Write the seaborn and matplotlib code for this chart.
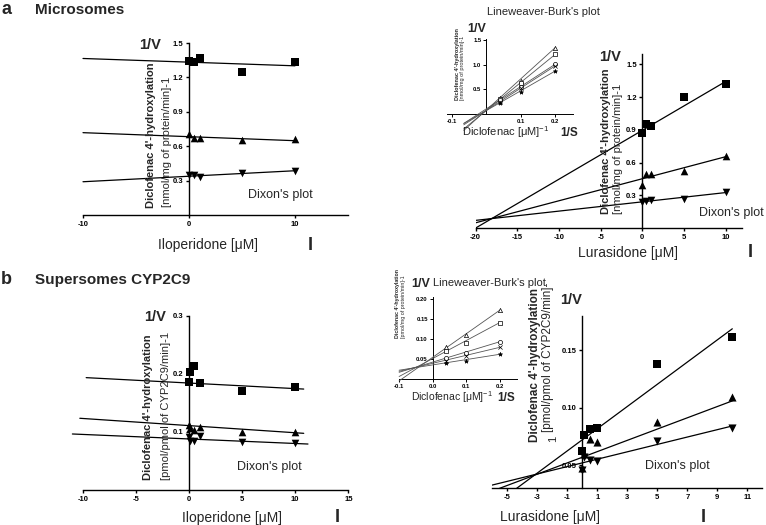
import numpy as np
import pandas as pd
import matplotlib
matplotlib.use("Agg")
import matplotlib.pyplot as plt
import seaborn as sns

# ---------------- data ----------------
# Dixon plots, microsomes
conc_mic = [0, 0.5, 1, 5, 10]
ilo_mic_sq = [1.343, 1.330, 1.365, 1.247, 1.334]
ilo_mic_up = [0.703, 0.674, 0.674, 0.654, 0.660]
ilo_mic_dn = [0.345, 0.350, 0.335, 0.369, 0.386]
ilo_mic_fit_int = [1.333, 0.683, 0.338]
ilo_mic_fit_slope = [-0.0032, -0.0035, 0.0048]
ilo_mic_fit_x = [(-10, 10), (-10, 10), (-10, 10)]

lur_mic_sq = [0.874, 0.951, 0.939, 1.199, 1.324]
lur_mic_up = [0.394, 0.500, 0.495, 0.526, 0.663]
lur_mic_dn = [0.241, 0.248, 0.254, 0.266, 0.327]
lur_mic_fit_int = [0.896, 0.452, 0.240]
lur_mic_fit_slope = [0.0448, 0.0202, 0.0085]
lur_mic_fit_x = [(-20, 10), (-20, 10), (-20, 10)]

# Dixon plots, supersomes CYP2C9
conc_sup = [0, 0.1, 0.5, 1, 5, 10]
ilo_sup_sq = [0.1856, 0.204, 0.2138, 0.185, 0.1707, 0.1776]
ilo_sup_up = [0.112, 0.107, 0.103, 0.109, 0.1006, 0.0994]
ilo_sup_dn = [0.092, 0.085, 0.085, 0.093, 0.0833, 0.0805]
ilo_sup_fit_int = [0.1844, 0.111, 0.088]
ilo_sup_fit_slope = [-0.00096, -0.00123, -0.00078]
ilo_sup_fit_x = [(-9.7, 10.8), (-10.3, 10.8), (-11.0, 11.2)]

lur_sup_sq = [0.0624, 0.0764, 0.0813, 0.0822, 0.1378, 0.1616]
lur_sup_up = [0.048, 0.060, 0.073, 0.070, 0.088, 0.109]
lur_sup_dn = [0.046, 0.057, 0.0546, 0.0535, 0.0711, 0.0828]
lur_sup_fit_int = [0.0722, 0.057, 0.0521]
lur_sup_fit_slope = [0.00965, 0.0049, 0.00321]
lur_sup_fit_x = [(-7, 10), (-7, 10), (-7, 10)]

# Lineweaver-Burk insets
inv_s = [0.04, 0.1, 0.2]
lb_mic = {
    "tri": [0.33, 0.676, 1.35],
    "sq": [0.295, 0.62, 1.214],
    "circ": [0.28, 0.553, 1.01],
    "x": [0.25, 0.52, 0.976],
    "star": [0.227, 0.45, 0.873],
}
lb_mic_fit_int = [0.075, 0.065, 0.10, 0.07, 0.065]
lb_mic_fit_slope = [6.375, 5.74, 4.56, 4.54, 4.04]
lb_mic_fit_x = (-0.065, 0.2)

lb_sup = {
    "tri": [0.080, 0.111, 0.173],
    "sq": [0.0716, 0.091, 0.142],
    "circ": [0.0525, 0.065, 0.094],
    "x": [0.0466, 0.058, 0.080],
    "star": [0.040, 0.045, 0.0625],
}
lb_sup_fit_int = [0.055, 0.052, 0.043, 0.040, 0.036]
lb_sup_fit_slope = [0.59, 0.45, 0.255, 0.20, 0.133]
lb_sup_fit_x = (-0.1, 0.2)

# tick labels
ilo_mic_xticks = [-10, 0, 10]
ilo_mic_yticks = [0.3, 0.6, 0.9, 1.2, 1.5]
lur_mic_xticks = [-20, -15, -10, -5, 0, 5, 10]
lur_mic_yticks = [0.3, 0.6, 0.9, 1.2, 1.5]
ilo_sup_xticks = [-10, -5, 0, 5, 10, 15]
ilo_sup_yticks = [0.1, 0.2, 0.3]
lur_sup_xticks = [-5, -3, -1, 1, 3, 5, 7, 9, 11]
lur_sup_yticks = [0.05, 0.10, 0.15]
lb_mic_xticks = [-0.1, 0.1, 0.2]
lb_mic_yticks = [0.5, 1.0, 1.5]
lb_sup_xticks = [-0.1, 0.0, 0.1, 0.2]
lb_sup_yticks = [0.05, 0.10, 0.15, 0.20]

# ---------------- style ----------------
sns.set_style("ticks")
plt.rcParams["font.family"] = ["Liberation Sans", "DejaVu Sans"]
plt.rcParams["mathtext.default"] = "regular"

W, H = 766, 525
fig = plt.figure(figsize=(W / 100, H / 100), dpi=100)


def add_ax(x0, x1, ytop, ybot):
    ax = fig.add_axes([x0 / W, 1 - ybot / H, (x1 - x0) / W, (ybot - ytop) / H])
    ax.set_facecolor("none")
    return ax


def ftext(x, y, s, **kw):
    kw.setdefault("ha", "center")
    kw.setdefault("va", "center")
    fig.text(x / W, 1 - y / H, s, **kw)


def style_axes(ax, xlim, ylim, xt, yt, xfmt, yfmt, fs, lw, tl):
    ax.set_xlim(*xlim)
    ax.set_ylim(*ylim)
    ax.spines["top"].set_visible(False)
    ax.spines["right"].set_visible(False)
    ax.spines["left"].set_position(("data", 0))
    for s in ("left", "bottom"):
        ax.spines[s].set_linewidth(lw)
        ax.spines[s].set_color("black")
    ax.set_xticks(xt, [xfmt(v) for v in xt], fontsize=fs, fontweight="bold")
    ax.set_yticks(yt, [yfmt(v) for v in yt], fontsize=fs, fontweight="bold")
    ax.tick_params(direction="out", length=tl, width=lw, pad=1.5, colors="black")
    ax.set_xlabel("")
    ax.set_ylabel("")


def draw_dixon(ax, conc, series, ints, slopes, xr, ms, lw_line, clip):
    markers = ["s", "^", "v"]
    for vals, m in zip(series, markers):
        sns.scatterplot(x=conc, y=vals, marker=m, color="black", s=ms,
                        edgecolor="black", linewidth=0, ax=ax, zorder=4,
                        clip_on=False, legend=False)
    for b, a, (x0, x1) in zip(ints, slopes, xr):
        xs = np.array([x0, x1])
        sns.lineplot(x=xs, y=b + a * xs, color="black", lw=lw_line, ax=ax,
                     clip_on=clip, zorder=3, sort=False)


def draw_lb(ax, data, ints, slopes, xr):
    mk = {"tri": ("^", "white"), "sq": ("s", "white"), "circ": ("o", "white"),
          "x": ("x", "black"), "star": ("*", "black")}
    for key, vals in data.items():
        m, c = mk[key]
        kw = dict(edgecolor="black") if m != "x" else {}
        sns.scatterplot(x=inv_s, y=vals, marker=m, color=c, s=9,
                        linewidth=0.5, ax=ax, zorder=4, clip_on=False,
                        legend=False, **kw)
    xs = np.array(xr)
    for b, a in zip(ints, slopes):
        sns.lineplot(x=xs, y=b + a * xs, color="#555555", lw=0.6, ax=ax,
                     clip_on=False, zorder=3, sort=False)


f1 = lambda v: f"{v:.1f}"
f2 = lambda v: f"{v:.2f}"
fi = lambda v: f"{v:g}"

# ---------------- panel a, left ----------------
ax1 = add_ax(83, 348, 43, 215)
draw_dixon(ax1, conc_mic, [ilo_mic_sq, ilo_mic_up, ilo_mic_dn],
           ilo_mic_fit_int, ilo_mic_fit_slope, ilo_mic_fit_x, 30, 0.9, False)
style_axes(ax1, (-10, 15), (0, 1.5), ilo_mic_xticks, ilo_mic_yticks, fi, f1, 5.5, 1.0, 2.5)

# ---------------- panel a, right ----------------
ax2 = add_ax(475.7, 742.3, 53.6, 228)
draw_dixon(ax2, conc_mic, [lur_mic_sq, lur_mic_up, lur_mic_dn],
           lur_mic_fit_int, lur_mic_fit_slope, lur_mic_fit_x, 30, 0.9, True)
style_axes(ax2, (-20, 12), (0, 1.6), lur_mic_xticks, lur_mic_yticks, fi, f1, 5.5, 1.0, 2.5)

# ---------------- panel b, left ----------------
ax3 = add_ax(83, 348.3, 316, 490)
draw_dixon(ax3, conc_sup, [ilo_sup_sq, ilo_sup_up, ilo_sup_dn],
           ilo_sup_fit_int, ilo_sup_fit_slope, ilo_sup_fit_x, 30, 0.9, False)
style_axes(ax3, (-10, 15), (0, 0.3), ilo_sup_xticks, ilo_sup_yticks, fi, f1, 5.5, 1.0, 2.5)

# ---------------- panel b, right ----------------
ax4 = add_ax(492.3, 762.3, 315.8, 488.3)
draw_dixon(ax4, conc_sup, [lur_sup_sq, lur_sup_up, lur_sup_dn],
           lur_sup_fit_int, lur_sup_fit_slope, lur_sup_fit_x, 34, 0.9, True)
style_axes(ax4, (-6, 12), (0.03, 0.18), lur_sup_xticks, lur_sup_yticks, fi, f2, 5.5, 1.0, 2.5)

# ---------------- insets ----------------
ai = add_ax(446.5, 572.5, 38.8, 113.8)
draw_lb(ai, lb_mic, lb_mic_fit_int, lb_mic_fit_slope, lb_mic_fit_x)
style_axes(ai, (-0.115, 0.25), (0, 1.53), lb_mic_xticks, lb_mic_yticks, f1, f1, 4.2, 0.7, 2)

bi = add_ax(399.1, 516.7, 297.3, 379.3)
draw_lb(bi, lb_sup, lb_sup_fit_int, lb_sup_fit_slope, lb_sup_fit_x)
style_axes(bi, (-0.1, 0.25), (0, 0.205), lb_sup_xticks, lb_sup_yticks, f1, f2, 4.2, 0.7, 2)

# ---------------- texts ----------------
B = "bold"
ftext(1, 10, "a", fontsize=13, fontweight=B, ha="left")
ftext(35, 10, "Microsomes", fontsize=11, fontweight=B, ha="left")
ftext(1, 280, "b", fontsize=13, fontweight=B, ha="left")
ftext(35, 280, "Supersomes CYP2C9", fontsize=11, fontweight=B, ha="left")

# a-left
ftext(150, 45, "1/V", fontsize=10.5, fontweight=B)
ftext(151, 208, "Diclofenac 4'-hydroxylation", fontsize=8, fontweight=B, rotation=90, va="bottom")
ftext(167, 207, "[nmol/mg of protein/min]-1", fontsize=8, rotation=90, va="bottom")
ftext(280, 195, "Dixon's plot", fontsize=9)
ftext(207.5, 245, "Iloperidone [μM]", fontsize=10)
ftext(310, 245, "I", fontsize=13, fontweight=B)

# a-right
ftext(610, 57, "1/V", fontsize=10.5, fontweight=B)
ftext(606, 214, "Diclofenac 4'-hydroxylation", fontsize=8, fontweight=B, rotation=90, va="bottom")
ftext(618, 214, "[nmol/mg of protein/min]-1", fontsize=8, rotation=90, va="bottom")
ftext(731, 213, "Dixon's plot", fontsize=9)
ftext(628.5, 253, "Lurasidone [μM]", fontsize=10)
ftext(750, 253, "I", fontsize=13, fontweight=B)

# inset a
ftext(543.5, 12, "Lineweaver-Burk's plot", fontsize=8)
ftext(477, 29, "1/V", fontsize=9, fontweight=B)
ftext(457, 100, "Diclofenac 4'-hydroxylation", fontsize=4, fontweight=B, rotation=90, va="bottom")
ftext(462.5, 100, "[nmol/mg of protein/min]-1", fontsize=4, rotation=90, va="bottom")
ftext(506, 132, "Diclofenac [μM]$^{-1}$", fontsize=8)
ftext(569, 133, "1/S", fontsize=8.5, fontweight=B)

# b-left
ftext(155, 317, "1/V", fontsize=10.5, fontweight=B)
ftext(148, 480, "Diclofenac 4'-hydroxylation", fontsize=8, fontweight=B, rotation=90, va="bottom")
ftext(166, 480, "[pmol/pmol of CYP2C9/min]-1", fontsize=8, rotation=90, va="bottom")
ftext(269.5, 467, "Dixon's plot", fontsize=9)
ftext(231.5, 518, "Iloperidone [μM]", fontsize=10)
ftext(337, 518, "I", fontsize=13, fontweight=B)

# b-right
ftext(571, 300, "1/V", fontsize=10.5, fontweight=B)
ftext(535, 442, "Diclofenac 4'-hydroxylation", fontsize=8.5, fontweight=B, rotation=90, va="bottom")
ftext(548, 432, "[pmol/pmol of CYP2C9/min]-", fontsize=8.5, rotation=90, va="bottom")
ftext(553, 439, "1", fontsize=8, rotation=90)
ftext(677.5, 466, "Dixon's plot", fontsize=9)
ftext(550, 517, "Lurasidone [μM]", fontsize=10)
ftext(703, 517, "I", fontsize=13, fontweight=B)

# inset b
ftext(421, 284, "1/V", fontsize=9, fontweight=B)
ftext(489.5, 283, "Lineweaver-Burk's plot", fontsize=8)
ftext(397, 338, "Diclofenac 4'-hydroxylation", fontsize=3.8, fontweight=B, rotation=90, va="bottom")
ftext(403, 338, "[pmol/mg of protein/min]-1", fontsize=3.8, rotation=90, va="bottom")
ftext(452, 397, "Diclofenac [μM]$^{-1}$", fontsize=7.5)
ftext(506, 398, "1/S", fontsize=8.5, fontweight=B)

fig.savefig("out.png", dpi=100)
